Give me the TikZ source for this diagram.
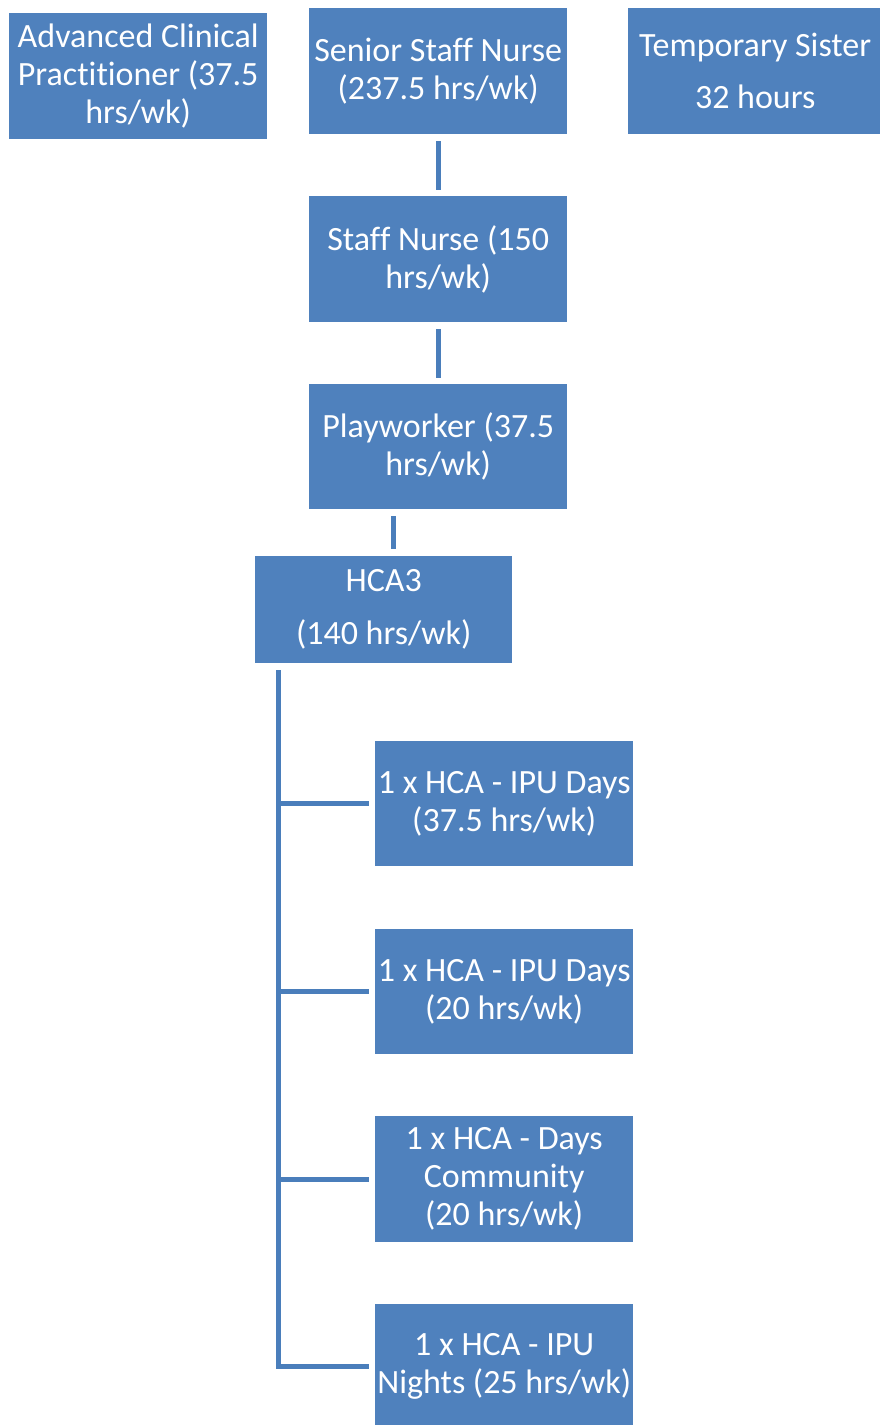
\documentclass[tikz,border=0pt]{standalone}
\usepackage{fontspec}
\setmainfont{Carlito}[Ligatures=NoCommon]
\definecolor{boxblue}{HTML}{4F81BD}
\definecolor{lineblue}{HTML}{4A7EBB}
\begin{document}
\begin{tikzpicture}[x=1pt,y=-1pt,
  box/.style={draw=none,fill=boxblue,text=white,inner sep=0pt,anchor=north west,
    align=center,font=\fontsize{34}{38}\selectfont},
  conn/.style={draw=lineblue,line width=5pt,line cap=butt}]
\useasboundingbox (0,0) rectangle (880,1425);
\node[box,minimum width=258pt,minimum height=126pt] (acp) at (9,13) {Advanced Clinical\\Practitioner (37.5\\hrs/wk)};
\node[box,minimum width=258pt,minimum height=126pt] (ssn) at (309,8) {Senior Staff Nurse\\(237.5 hrs/wk)};
\node[box,minimum width=254pt,minimum height=126pt] (ts) at (628,8) {Temporary Sister\\[14pt]32 hours};
\node[box,minimum width=258pt,minimum height=126pt] (sn) at (309,196) {Staff Nurse (150\\hrs/wk)};
\node[box,minimum width=258pt,minimum height=125pt] (pw) at (309,384) {Playworker (37.5\\hrs/wk)};
\node[box,minimum width=257pt,minimum height=107pt] (hca) at (255,556) {HCA3\\[15pt](140 hrs/wk)};
\node[box,minimum width=258pt,minimum height=125pt] (c1) at (375,741) {1 x HCA - IPU Days\\(37.5 hrs/wk)};
\node[box,minimum width=258pt,minimum height=125pt] (c2) at (375,929) {1 x HCA - IPU Days\\(20 hrs/wk)};
\node[box,minimum width=258pt,minimum height=126pt] (c3) at (375,1116) {1 x HCA - Days\\Community\\(20 hrs/wk)};
\node[box,minimum width=258pt,minimum height=124pt] (c4) at (375,1304) {1 x HCA - IPU\\Nights (25 hrs/wk)};
% connectors
\draw[conn,shorten <=7pt,shorten >=6pt] (ssn.south) -- (sn.north);
\draw[conn,shorten <=7pt,shorten >=6pt] (sn.south) -- (pw.north);
\draw[conn,shorten <=7pt,shorten >=7pt] ([xshift=9.5pt]hca.north |- pw.south) -- ([xshift=9.5pt]hca.north);
\coordinate (trunk) at ([xshift=23pt,yshift=-7pt]hca.south west);
\draw[conn,line join=miter] (trunk) |- ([xshift=-6pt]c4.west);
\draw[conn] (c1.west -| trunk) -- ([xshift=-6pt]c1.west);
\draw[conn] (c2.west -| trunk) -- ([xshift=-6pt]c2.west);
\draw[conn] (c3.west -| trunk) -- ([xshift=-6pt]c3.west);
\end{tikzpicture}
\end{document}
